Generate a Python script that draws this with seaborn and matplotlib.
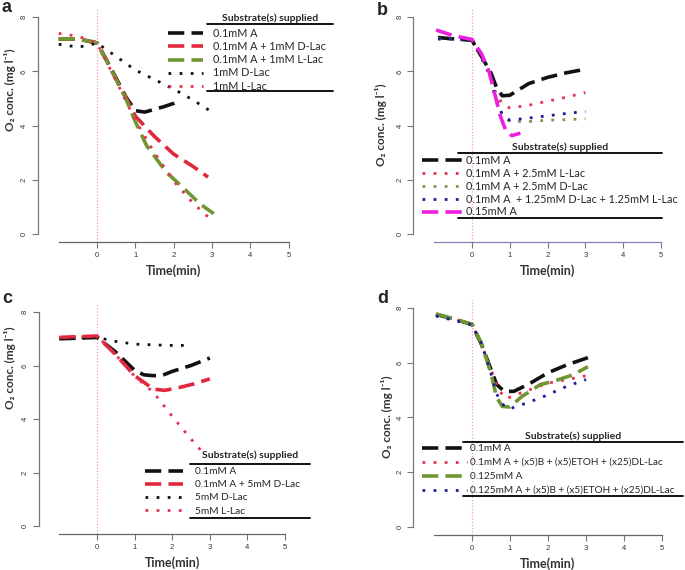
import matplotlib
matplotlib.use("Agg")
import matplotlib.pyplot as plt
import seaborn as sns
from matplotlib.lines import Line2D

# ---- data ----
# panel a
a_t_A = [-1, -0.5, 0, 0.25, 0.5, 0.75, 1, 1.25, 1.5, 1.75, 2, 2.1]
a_A = [7.2, 7.2, 7.05, 6.42, 5.75, 5.07, 4.55, 4.5, 4.6, 4.7, 4.82, 4.9]
a_t_A_DLac = [-1, -0.5, 0, 0.25, 0.5, 0.75, 1, 1.5, 2, 2.5, 2.9]
a_A_DLac = [7.2, 7.2, 7.05, 6.4, 5.7, 5.05, 4.35, 3.6, 2.95, 2.5, 2.1]
a_t_A_LLac = [-1, -0.5, 0, 0.25, 0.5, 0.75, 1, 1.3, 1.8, 2.35, 2.7, 3.05]
a_A_LLac = [7.2, 7.2, 7.05, 6.4, 5.7, 5.0, 4.15, 3.25, 2.3, 1.57, 1.1, 0.75]
a_t_DLac = [-1, -0.75, -0.5, -0.25, 0, 0.5, 1, 1.5, 2, 2.5, 3]
a_DLac = [7.0, 6.95, 6.9, 6.95, 7.05, 6.55, 6.05, 5.7, 5.35, 4.95, 4.5]
a_t_LLac = [-1, -0.5, 0, 0.5, 1, 1.5, 2, 2.5, 3]
a_LLac = [7.4, 7.3, 7.05, 5.65, 4.2, 3.0, 1.95, 1.15, 0.5]

# panel b
b_t_A = [-0.9, -0.5, 0, 0.25, 0.5, 0.65, 0.8, 1, 1.5, 2, 2.5, 3]
b_A = [7.25, 7.2, 7.15, 6.55, 5.95, 5.4, 5.1, 5.12, 5.55, 5.78, 5.95, 6.08]
b_t_lac = [-0.9, -0.5, 0, 0.25, 0.5, 0.6, 0.8, 1, 1.5, 2, 2.5, 3]
b_A_LLac = [7.2, 7.2, 7.15, 6.5, 5.8, 5.3, 4.8, 4.65, 4.75, 4.9, 5.05, 5.22]
b_A_DLac = [7.2, 7.2, 7.15, 6.5, 5.8, 5.2, 4.4, 4.15, 4.15, 4.2, 4.22, 4.25]
b_A_DLLac = [7.2, 7.2, 7.15, 6.5, 5.8, 5.1, 4.4, 4.2, 4.28, 4.36, 4.45, 4.52]
b_t_A15 = [-0.95, -0.5, 0, 0.25, 0.45, 0.62, 0.75, 0.9, 1.05, 1.28]
b_A15 = [7.53, 7.32, 7.18, 6.65, 6.0, 5.07, 4.35, 3.8, 3.63, 3.72]

# panel c
c_t_A = [-1, -0.5, 0, 0.5, 1, 1.25, 1.5, 1.75, 2, 2.5, 3]
c_A = [7.0, 7.02, 7.05, 6.5, 5.82, 5.65, 5.62, 5.64, 5.78, 6.0, 6.28]
c_t_A_DLac = [-1, -0.5, 0, 0.5, 1, 1.5, 1.8, 2.2, 2.6, 3]
c_A_DLac = [7.05, 7.08, 7.1, 6.4, 5.62, 5.12, 5.07, 5.18, 5.32, 5.5]
c_t_DLac = [-1, 0, 0.5, 1, 1.5, 2, 2.45]
c_DLac = [7.0, 7.05, 6.9, 6.8, 6.77, 6.75, 6.75]
c_t_LLac = [-1, 0, 0.5, 1, 1.5, 2, 2.5, 2.75]
c_LLac = [7.05, 7.1, 6.4, 5.6, 5.0, 4.1, 3.25, 2.85]

# panel d
d_t_A = [-0.95, -0.5, 0, 0.25, 0.5, 0.65, 0.85, 1.1, 1.5, 2, 2.5, 3.05]
d_A = [7.76, 7.6, 7.39, 6.66, 5.75, 5.2, 4.95, 4.95, 5.22, 5.63, 5.92, 6.18]
d_t_A_mix = [-0.95, -0.5, 0, 0.25, 0.5, 0.7, 0.9, 1.2, 1.5, 2, 2.5, 3]
d_A_mix = [7.76, 7.6, 7.39, 6.66, 5.75, 5.0, 4.68, 4.85, 5.0, 5.25, 5.38, 5.52]
d_t_A125 = [-0.95, -0.5, 0, 0.25, 0.5, 0.65, 0.8, 1.0, 1.3, 1.8, 2.15, 2.65, 3.05]
d_A125 = [7.78, 7.6, 7.4, 6.7, 5.6, 4.72, 4.4, 4.38, 4.75, 5.2, 5.32, 5.55, 5.85]
d_t_A125_mix = [-0.95, -0.5, 0, 0.25, 0.5, 0.65, 0.85, 1.0, 1.45, 1.9, 2.5, 3]
d_A125_mix = [7.7, 7.55, 7.38, 6.7, 5.6, 4.85, 4.4, 4.32, 4.53, 4.77, 5.14, 5.38]

x_ticks = [0, 1, 2, 3, 4, 5]
y_ticks = [0, 2, 4, 6, 8]
legend_title = "Substrate(s) supplied"

# ---- styles ----
BLACK, RED, GREEN = "#111111", "#e2283c", "#6f9633"
RED_DOT, OLIVE_DOT, BLUE_DOT, MAGENTA = "#e8304e", "#8d8c50", "#1c1c9c", "#ee1ee0"
DASH = (0, (4.5, 2.0))
DOT = (0, (1, 3))

sns.set_theme(style="ticks")
plt.rcParams["font.family"] = ["Lato", "DejaVu Sans"]

W, H = 685, 570
fig = plt.figure(figsize=(W / 100, H / 100), dpi=100)
XLIM, YLIM = (-1.55, 5.3), (-0.3, 8.3)


def make_ax(x0, ux, y0, uy):
    left, right = x0 + XLIM[0] * ux, x0 + XLIM[1] * ux
    top, bottom = y0 - YLIM[1] * uy, y0 - YLIM[0] * uy
    return fig.add_axes([left / W, 1 - bottom / H, (right - left) / W, (bottom - top) / H])


def fig_line(x1, x2, y):
    fig.add_artist(Line2D([x1 / W, x2 / W], [1 - y / H, 1 - y / H],
                          transform=fig.transFigure, color="black", lw=1.3))


def style_ax(ax, letter, lpos, ylab_y, ylab_x, xaxis_color="#666666"):
    ax.set_xlim(XLIM)
    ax.set_ylim(YLIM)
    ax.axvline(0, color="#f2a0b4", lw=0.9, ls=(0, (1, 1.5)), zorder=0)
    for s in ["top", "right"]:
        ax.spines[s].set_visible(False)
    ax.spines["left"].set_bounds(0, 8)
    ax.spines["bottom"].set_bounds(-1, 5)
    ax.spines["left"].set_color("#777777")
    ax.spines["bottom"].set_color(xaxis_color)
    ax.spines["left"].set_linewidth(0.9)
    ax.spines["bottom"].set_linewidth(0.9)
    ax.set_xticks(x_ticks)
    ax.set_yticks(y_ticks)
    ax.tick_params(length=4, width=0.8, color="#777777", labelsize=5.5,
                   labelcolor="#333333", pad=3)
    for lab in ax.get_xticklabels() + ax.get_yticklabels():
        lab.set_family("Liberation Sans")
    for lab in ax.get_yticklabels():
        lab.set_rotation(90)
        lab.set_va("center")
    ax.set_xlabel("Time(min)", fontsize=9, fontweight="bold", color="#333333")
    xl = (2 - XLIM[0]) / (XLIM[1] - XLIM[0])
    ax.xaxis.set_label_coords(xl, -0.095)
    ax.set_ylabel("O₂ conc. (mg l⁻¹)", fontsize=8.5, fontweight="bold", color="#333333")
    bb = ax.get_position()
    # x here is the right edge of the rotated label
    ax.yaxis.set_label_coords((ylab_x / W - bb.x0) / bb.width,
                              ((1 - ylab_y / H) - bb.y0) / bb.height)
    fig.text(lpos[0] / W, 1 - lpos[1] / H, letter, fontsize=13, fontweight="bold",
             family="Liberation Sans", ha="left", va="baseline")


def draw(ax, t, v, color, ls, label, lw=2.6):
    sns.lineplot(x=t, y=v, ax=ax, color=color, linestyle=ls, lw=lw, label=label,
                 sort=False)


def legend(ax, x, y, hl, htp, fs, sp):
    ax.legend(loc="upper left", bbox_to_anchor=(x / W, 1 - y / H),
              bbox_transform=fig.transFigure, frameon=False, fontsize=fs,
              handlelength=hl * 7 / fs, handletextpad=htp * 7 / fs,
              labelspacing=sp, borderpad=0, borderaxespad=0)


# ---- panel a ----
ax_a = make_ax(97, 38.3, 234, 27.1)
draw(ax_a, a_t_A, a_A, BLACK, DASH, "0.1mM A")
draw(ax_a, a_t_A_DLac, a_A_DLac, RED, DASH, "0.1mM A + 1mM D-Lac")
draw(ax_a, a_t_A_LLac, a_A_LLac, GREEN, DASH, "0.1mM A + 1mM L-Lac")
draw(ax_a, a_t_DLac, a_DLac, BLACK, DOT, "1mM D-Lac", lw=2.0)
draw(ax_a, a_t_LLac, a_LLac, RED_DOT, DOT, "1mM L-Lac", lw=2.0)
style_ax(ax_a, "a", (2, 12), 90, 16)
legend(ax_a, 168, 28, 3.6, 1.0, 7.8, 0.2)
fig.text(270 / W, 1 - 18 / H, legend_title, fontsize=7.5, fontweight="bold",
         ha="center", va="center")
fig_line(207, 333, 24)
fig_line(207, 333, 91)

# ---- panel b ----
ax_b = make_ax(472, 37.8, 234, 27.1)
draw(ax_b, b_t_A, b_A, BLACK, DASH, "0.1mM A")
draw(ax_b, b_t_lac, b_A_LLac, RED_DOT, DOT, "0.1mM A + 2.5mM L-Lac", lw=2.0)
draw(ax_b, b_t_lac, b_A_DLac, OLIVE_DOT, DOT, "0.1mM A + 2.5mM D-Lac", lw=2.0)
draw(ax_b, b_t_lac, b_A_DLLac, BLUE_DOT, DOT,
     "0.1mM A  + 1.25mM D-Lac + 1.25mM L-Lac", lw=2.0)
draw(ax_b, b_t_A15, b_A15, MAGENTA, DASH, "0.15mM A")
style_ax(ax_b, "b", (377, 15), 125, 387, xaxis_color="#8484b4")
legend(ax_b, 422, 155, 4.4, 0.1, 7.8, 0.17)
fig.text(560 / W, 1 - 147 / H, legend_title, fontsize=7.5, fontweight="bold",
         ha="center", va="center")
fig_line(458, 662, 153)
fig_line(458, 662, 218)

# ---- panel c ----
ax_c = make_ax(97, 37.6, 526, 26.75)
draw(ax_c, c_t_A, c_A, BLACK, DASH, "0.1mM A")
draw(ax_c, c_t_A_DLac, c_A_DLac, RED, DASH, "0.1mM A + 5mM D-Lac")
draw(ax_c, c_t_DLac, c_DLac, BLACK, DOT, "5mM D-Lac", lw=2.0)
draw(ax_c, c_t_LLac, c_LLac, RED_DOT, DOT, "5mM L-Lac", lw=2.0)
style_ax(ax_c, "c", (2, 303), 368, 16)
legend(ax_c, 145, 467, 3.9, 1.2, 7.3, 0.4)
fig.text(250 / W, 1 - 455 / H, legend_title, fontsize=7.5, fontweight="bold",
         ha="center", va="center")
fig_line(190, 310, 464)
fig_line(190, 310, 518)

# ---- panel d ----
ax_d = make_ax(472, 38.0, 527, 27.4)
draw(ax_d, d_t_A, d_A, BLACK, DASH, "0.1mM A")
draw(ax_d, d_t_A_mix, d_A_mix, RED_DOT, DOT,
     "0.1mM A + (x5)B + (x5)ETOH + (x25)DL-Lac", lw=2.0)
draw(ax_d, d_t_A125, d_A125, GREEN, DASH, "0.125mM A")
draw(ax_d, d_t_A125_mix, d_A125_mix, BLUE_DOT, DOT,
     "0.125mM A + (x5)B + (x5)ETOH + (x25)DL-Lac", lw=2.0)
style_ax(ax_d, "d", (377, 303), 417, 393)
legend(ax_d, 422, 444, 4.6, 0.3, 7.2, 0.5)
fig.text(573 / W, 1 - 436 / H, legend_title, fontsize=7.5, fontweight="bold",
         ha="center", va="center")
fig_line(463, 683, 442)
fig_line(463, 683, 496)

fig.savefig("out.png", dpi=100)
